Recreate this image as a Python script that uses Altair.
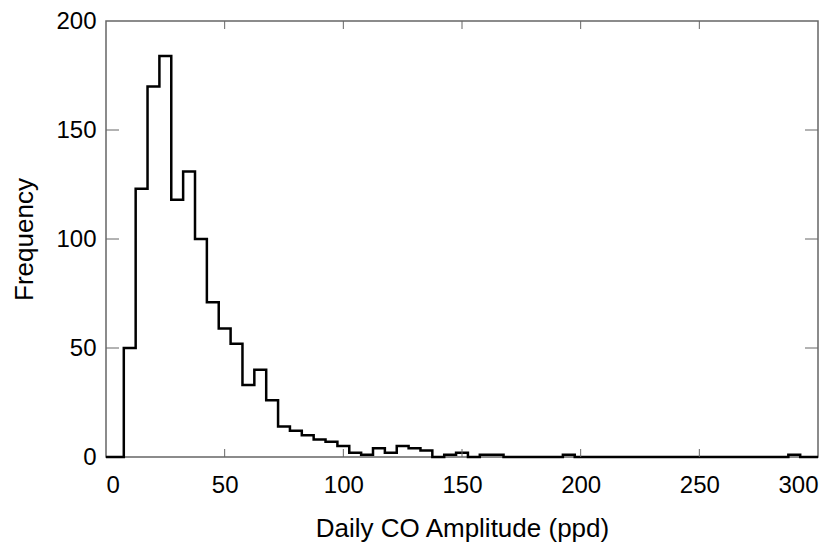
import altair as alt
import pandas as pd

edges = [0, 7.5, 12.5, 17.5, 22.5, 27.5, 32.5, 37.5, 42.5, 47.5, 52.5, 57.5, 62.5, 67.5,
         72.5, 77.5, 82.5, 87.5, 92.5, 97.5, 102.5, 107.5, 112.5, 117.5, 122.5, 127.5,
         132.5, 137.5, 142.5, 147.5, 152.5, 157.5, 162.5, 167.5, 192.5, 197.5, 287.5,
         292.5, 300]
counts = [0, 50, 123, 170, 184, 118, 131, 100, 71, 59, 52, 33, 40, 26,
          14, 12, 10, 8, 7, 5, 2, 1, 4, 2, 5, 4,
          3, 0, 1, 2, 0, 1, 1, 0, 1, 0, 1,
          0, 0]
x_ticks = [0, 50, 100, 150, 200, 250, 300]
y_ticks = [0, 50, 100, 150, 200]

df = pd.DataFrame({"amp": edges, "freq": counts})
xs = alt.Scale(domain=[0, 300], nice=False)
ys = alt.Scale(domain=[0, 200], nice=False)
font = dict(labelFont="Liberation Sans", titleFont="Liberation Sans",
            labelFontSize=24, titleFontSize=26, labelColor="black", titleColor="black",
            titleFontWeight="normal", domain=False, ticks=False, grid=False)

hist = alt.Chart(df).mark_line(interpolate="step-after", color="black", strokeWidth=2.5).encode(
    x=alt.X("amp:Q", scale=xs, title="Daily CO Amplitude (ppd)",
            axis=alt.Axis(values=x_ticks, labelPadding=16, titlePadding=18, **font)),
    y=alt.Y("freq:Q", scale=ys, title="Frequency",
            axis=alt.Axis(values=y_ticks, labelPadding=10, titlePadding=18, **font)),
)

tx = pd.DataFrame({"v": x_ticks[1:-1]})
ty = pd.DataFrame({"v": y_ticks[1:-1]})
tick_style = dict(color="#666", strokeWidth=1)
bot = alt.Chart(tx).mark_rule(**tick_style).encode(x=alt.X("v:Q", scale=xs), y=alt.value(436), y2=alt.value(428))
top = alt.Chart(tx).mark_rule(**tick_style).encode(x=alt.X("v:Q", scale=xs), y=alt.value(0), y2=alt.value(8))
lft = alt.Chart(ty).mark_rule(**tick_style).encode(y=alt.Y("v:Q", scale=ys), x=alt.value(0), x2=alt.value(13))
rgt = alt.Chart(ty).mark_rule(**tick_style).encode(y=alt.Y("v:Q", scale=ys), x=alt.value(712), x2=alt.value(699))

chart = (hist + bot + top + lft + rgt).properties(
    width=712, height=436,
    autosize=alt.AutoSizeParams(type="none"),
    padding={"left": 98, "top": 13, "right": 2, "bottom": 86},
).configure_view(stroke="#666", strokeWidth=1.5)

chart.save("out.html", embed_options={"renderer": "svg", "actions": False})
